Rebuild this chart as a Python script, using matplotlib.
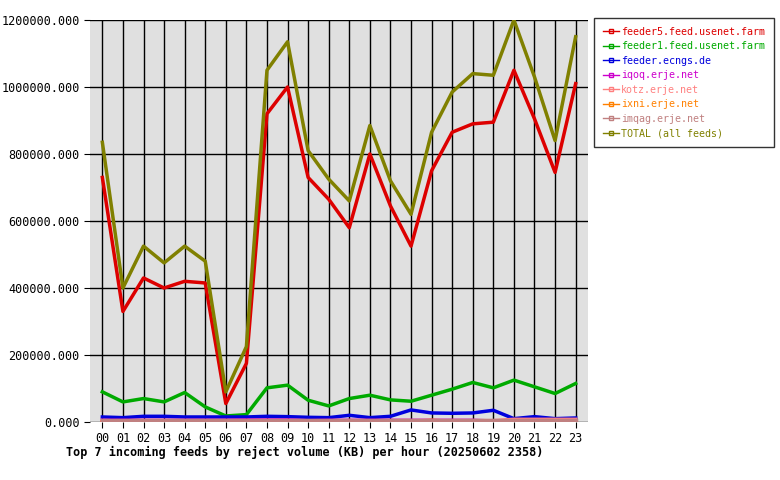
import numpy as np
import matplotlib.pyplot as plt

hours = ['%02d' % h for h in range(24)]
feeder5 = [730, 330, 430, 400, 420, 415, 55, 175, 920, 1000, 730, 665, 580, 800, 645, 525, 750, 865, 890, 895, 1050, 905, 745, 1010]
feeder1 = [90, 60, 70, 60, 88, 45, 18, 22, 102, 110, 65, 48, 70, 80, 66, 62, 80, 98, 118, 102, 125, 105, 85, 115]
ecngs = [15, 13, 17, 17, 15, 15, 15, 15, 17, 16, 14, 13, 20, 13, 17, 36, 27, 26, 27, 35, 10, 16, 10, 12]
iqoq = [5, 5, 5, 5, 5, 5, 5, 6, 6, 6, 4, 5, 5, 5, 5, 5, 5, 5, 5, 3, 5, 5, 5, 5]
kotz = [4, 4, 4, 4, 4, 4, 4, 4, 4, 4, 4, 4, 4, 4, 4, 4, 4, 4, 4, 4, 8, 8, 8, 8]
ixni = [2, 2, 2, 2, 2, 2, 2, 2, 2, 2, 2, 2, 2, 2, 2, 2, 5, 2, 2, 2, 2, 2, 2, 2]
imqag = [5, 5, 5, 5, 5, 5, 5, 5, 5, 5, 5, 5, 5, 5, 5, 5, 5, 5, 5, 5, 5, 5, 5, 5]
total = [835, 400, 525, 475, 525, 480, 90, 225, 1050, 1135, 810, 725, 660, 885, 720, 620, 865, 985, 1040, 1035, 1200, 1030, 840, 1150]

series = [
    ('feeder5.feed.usenet.farm', feeder5, '#dd0000'),
    ('feeder1.feed.usenet.farm', feeder1, '#00aa00'),
    ('feeder.ecngs.de', ecngs, '#0000dd'),
    ('iqoq.erje.net', iqoq, '#cc00cc'),
    ('kotz.erje.net', kotz, '#ff8080'),
    ('ixni.erje.net', ixni, '#ff8000'),
    ('imqag.erje.net', imqag, '#c08080'),
    ('TOTAL (all feeds)', total, '#808000'),
]

plt.rcParams['font.family'] = 'DejaVu Sans Mono'
fig = plt.figure(figsize=(7.8, 4.8), dpi=100)
ax = fig.add_axes([90/780, 58/480, 498/780, 402/480])
ax.set_facecolor('#e0e0e0')
x = np.arange(24)
for name, vals, col in series:
    ax.plot(x, np.array(vals) * 1000, color=col, lw=2.5, label=name)

ax.set_xlim(-0.6, 23.6)
ax.set_ylim(0, 1200000)
ax.set_xticks(x)
ax.set_xticklabels(hours, fontsize=8.5)
yt = np.arange(0, 1200001, 200000)
ax.set_yticks(yt)
ax.set_yticklabels(['%.3f' % v for v in yt], fontsize=8.5)
ax.grid(axis='x', color='black', lw=1)
ax.grid(axis='y', color='black', lw=1)
for s in ax.spines.values():
    s.set_visible(False)
ax.tick_params(length=4)

leg = ax.legend(loc='upper left', bbox_to_anchor=(1.012, 1.005), fontsize=7.2, frameon=True,
                fancybox=False, edgecolor='black', handlelength=1.6, borderpad=0.9,
                labelspacing=0.45, handletextpad=0.2, borderaxespad=0)
for line in leg.get_lines():
    line.set_linewidth(1)
    line.set_marker('s'); line.set_markersize(3); line.set_markerfacecolor('none')
for txt, (_, _, col) in zip(leg.get_texts(), series):
    txt.set_color(col)

fig.text(66/780, 1 - 452/480, 'Top 7 incoming feeds by reject volume (KB) per hour (20250602 2358)',
         fontsize=8.5, fontweight='bold', va='center')
fig.savefig('out.png', dpi=100)
